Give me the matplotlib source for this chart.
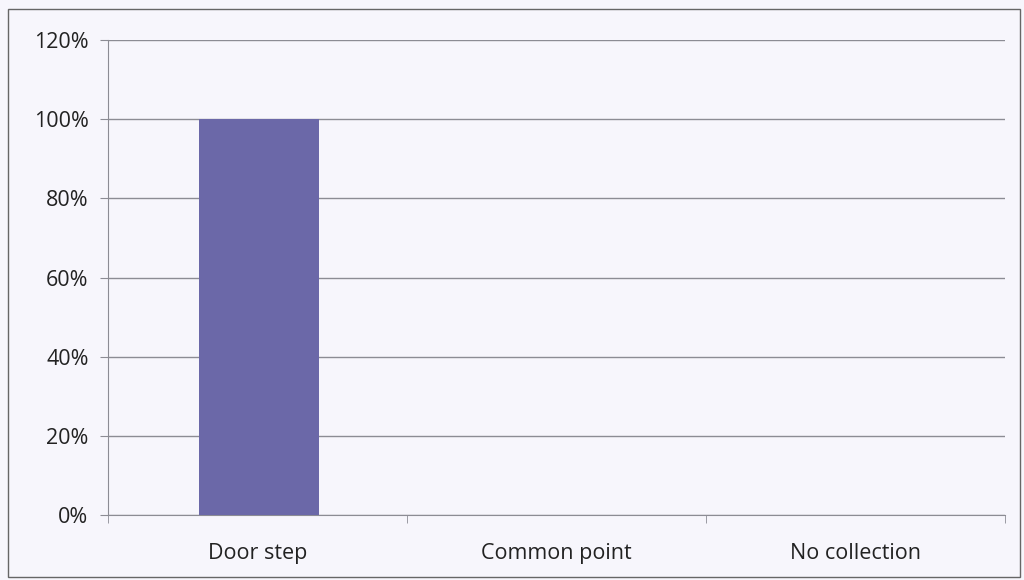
import matplotlib
matplotlib.use("Agg")
import matplotlib.pyplot as plt
from matplotlib.ticker import FuncFormatter, FixedLocator
from matplotlib.patches import Rectangle

categories = ["Door step", "Common point", "No collection"]
values = [1.00, 0.0, 0.0]
yticks = [0, 0.2, 0.4, 0.6, 0.8, 1.0, 1.2]

plt.rcParams['font.family'] = ['Open Sans', 'DejaVu Sans']

bg = "#f7f6fc"
fig = plt.figure(figsize=(10.24, 5.8), dpi=100, facecolor=bg)
ax = fig.add_axes([108/1024, 1 - 515/580, (1005-108)/1024, (515-40)/580])
ax.set_facecolor(bg)

x = list(range(len(categories)))
ax.bar([xi + 0.005 for xi in x], values, width=0.4, color="#6b68a8", zorder=3)

ax.set_xlim(-0.5, len(categories) - 0.5)
ax.set_ylim(0, 1.2)
ax.set_yticks(yticks)
ax.yaxis.set_major_formatter(FuncFormatter(lambda v, p: f"{v*100:.0f}%"))
ax.grid(axis='y', color="#8c8c94", linewidth=1.0, zorder=0)
ax.set_xticks(x)
ax.set_xticklabels(categories, fontsize=15.5, color="#222222")
ax.tick_params(axis='x', length=0, pad=20)
ax.xaxis.set_minor_locator(FixedLocator([-0.5, 0.5, 1.5, 2.5]))
ax.tick_params(axis='x', which='minor', length=6, color="#8c8c94", direction='out')
ax.tick_params(axis='y', length=6, color="#8c8c94", labelsize=15.5, labelcolor="#222222", pad=8)

for s in ['top', 'right']:
    ax.spines[s].set_visible(False)
for s in ['left', 'bottom']:
    ax.spines[s].set_color("#8c8c94")

fig.add_artist(Rectangle((8/1024, 3/580), 1012/1024, 568/580, transform=fig.transFigure,
                         fill=False, edgecolor="#666666", linewidth=1.0))

fig.savefig("out.png", dpi=100, facecolor=bg)
